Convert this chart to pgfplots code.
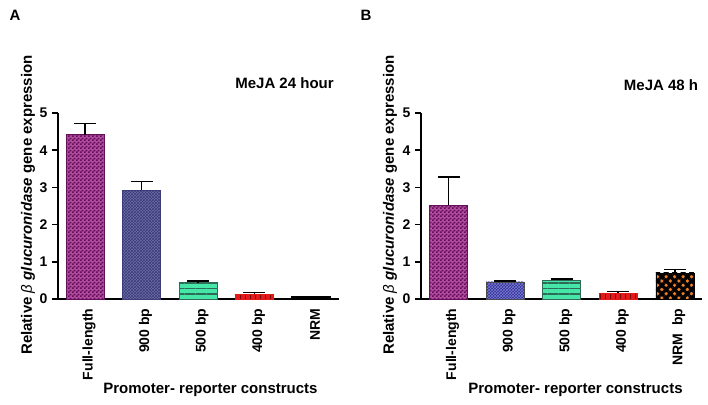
\documentclass[border=0pt]{standalone}
\usepackage{fontspec}
\setmainfont{Liberation Sans}
\usepackage{pgfplots}
\pgfplotsset{compat=1.18}
\usetikzlibrary{patterns,patterns.meta}
\pgfdeclarepatternformonly{finecheck}{\pgfpointorigin}{\pgfqpoint{4pt}{4pt}}{\pgfqpoint{4pt}{4pt}}{%
  \pgfpathrectangle{\pgfpointorigin}{\pgfqpoint{2pt}{2pt}}%
  \pgfpathrectangle{\pgfqpoint{2pt}{2pt}}{\pgfqpoint{2pt}{2pt}}%
  \pgfusepath{fill}}
\definecolor{magA}{HTML}{B24A9E}
\definecolor{magB}{HTML}{62105A}
\definecolor{slateA}{HTML}{6C6CA8}
\definecolor{slateB}{HTML}{3C3C78}
\definecolor{navyA}{HTML}{30309A}
\definecolor{navyB}{HTML}{7A7AD0}
\definecolor{aqua}{HTML}{46E6A8}
\definecolor{aquaL}{HTML}{2E6A58}
\definecolor{redA}{HTML}{E41A1A}
\definecolor{redB}{HTML}{7A0A0A}
\definecolor{orng}{HTML}{F08028}
\pgfplotsset{
  panel/.style={
    scale only axis, width=281pt, height=186pt, anchor=south west,
    ymin=0, ymax=5, ytick={0,1,2,3,4,5},
    axis x line=bottom, axis y line=left,
    axis line style={-, line width=1.5pt},
    tick align=outside, major tick length=6pt,
    ytick style={line width=1.5pt, black},
    xtick style={draw=none},
    xtick={0,1,2,3,4},
    /pgf/number format/assume math mode=true,
    yticklabel style={font=\bfseries\fontsize{14}{14}\selectfont, xshift=-1pt},
    xticklabel style={rotate=90, anchor=east, font=\bfseries\fontsize{14}{14}\selectfont, yshift=-4pt},
    ybar, bar width=38pt,
  },
  eb/.style={draw=none, fill=none, bar shift=0pt, forget plot,
    error bars/.cd, y dir=plus, y explicit,
    error bar style={draw=black, line width=1.6pt},
    error mark options={rotate=90, mark size=11pt, line width=1.6pt, draw=black}},
}
\begin{document}
\begin{tikzpicture}
\useasboundingbox (0,0) rectangle (708pt,404pt);
% Panel A
\begin{axis}[panel, at={(58pt,105pt)}, xmin=-0.478, xmax=4.496,
  xticklabels={Full-length, 900 bp, 500 bp, 400 bp, NRM}]
\addplot[bar shift=0pt, fill=magA, draw=magB, postaction={pattern=finecheck, pattern color=magB}] coordinates {(0,4.42)};
\addplot[bar shift=0pt, fill=slateA, draw=slateB, postaction={pattern=crosshatch, pattern color=slateB}] coordinates {(1,2.92)};
\addplot[bar shift=0pt, fill=aqua, draw=aquaL, postaction={pattern={Lines[angle=0,distance=5.5pt,line width=1.2pt]}, pattern color=aquaL}] coordinates {(2,0.44)};
\addplot[bar shift=0pt, fill=redA, draw=redA, postaction={pattern={Lines[angle=90,distance=5pt,line width=1pt]}, pattern color=redB}] coordinates {(3,0.13)};
\addplot[bar shift=0pt, fill=black, draw=black, line width=1.5pt] coordinates {(4,0.05)};
\addplot[eb] coordinates {(0,4.42) +- (0,0.30) (1,2.92) +- (0,0.24) (2,0.44) +- (0,0.04) (3,0.13) +- (0,0.05) (4,0.05) +- (0,0.01)};
\end{axis}
% Panel B
\begin{axis}[panel, at={(421pt,105pt)}, xmin=-0.486, xmax=4.48,
  xticklabels={Full-length, 900 bp, 500 bp, 400 bp, NRM\ \ bp}]
\addplot[bar shift=0pt, fill=magA, draw=magB, postaction={pattern=finecheck, pattern color=magB}] coordinates {(0,2.52)};
\addplot[bar shift=0pt, fill=navyA, draw=black!70, postaction={pattern=crosshatch, pattern color=navyB}] coordinates {(1,0.46)};
\addplot[bar shift=0pt, fill=aqua, draw=aquaL, postaction={pattern={Lines[angle=0,distance=5.5pt,line width=1.2pt]}, pattern color=aquaL}] coordinates {(2,0.50)};
\addplot[bar shift=0pt, fill=redA, draw=redA, postaction={pattern={Lines[angle=90,distance=5pt,line width=1pt]}, pattern color=redB}] coordinates {(3,0.15)};
\addplot[bar shift=0pt, fill=orng, draw=black, postaction={pattern={Lines[angle=45,distance=6pt,line width=3.2pt]}, pattern color=black}, postaction={pattern={Lines[angle=-45,distance=6pt,line width=3.2pt]}, pattern color=black}] coordinates {(4,0.70)};
\addplot[eb] coordinates {(0,2.52) +- (0,0.76) (1,0.46) +- (0,0.03) (2,0.50) +- (0,0.03) (3,0.15) +- (0,0.05) (4,0.70) +- (0,0.09)};
\end{axis}
% texts
\node[font=\bfseries\fontsize{15}{15}\selectfont] at (15pt,389pt) {A};
\node[font=\bfseries\fontsize{15}{15}\selectfont] at (366pt,389pt) {B};
\node[font=\bfseries\fontsize{15}{15}\selectfont] at (284.5pt,321pt) {MeJA 24 hour};
\node[font=\bfseries\fontsize{15}{15}\selectfont] at (661pt,319pt) {MeJA 48 h};
\node[font=\bfseries\fontsize{15}{15}\selectfont, rotate=90] at (28pt,199pt) {Relative {\mdseries\itshape β} \textit{glucuronidase} gene expression};
\node[font=\bfseries\fontsize{15}{15}\selectfont, rotate=90] at (390pt,199pt) {Relative {\mdseries\itshape β} \textit{glucuronidase} gene expression};
\node[font=\bfseries\fontsize{15}{15}\selectfont] at (210.5pt,14pt) {Promoter- reporter constructs};
\node[font=\bfseries\fontsize{15}{15}\selectfont] at (575.5pt,14pt) {Promoter- reporter constructs};
\end{tikzpicture}
\end{document}
